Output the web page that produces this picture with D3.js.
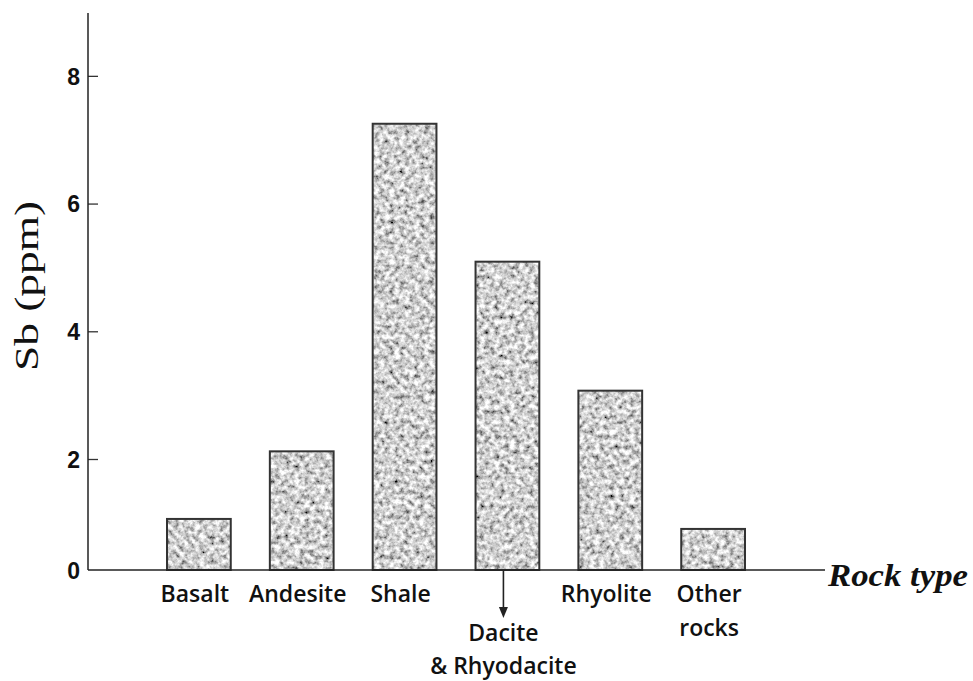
<!DOCTYPE html>
<html>
<head>
<meta charset="utf-8">
<script src="https://cdn.jsdelivr.net/npm/d3@7/dist/d3.min.js"></script>
<style>
  html, body { margin: 0; padding: 0; background: #fff; }
  svg { display: block; }
</style>
</head>
<body>
<svg id="chart" width="973" height="681"></svg>
<script>
// ---- data ----
const categories = ["Basalt", "Andesite", "Shale", "Dacite & Rhyodacite", "Rhyolite", "Other rocks"];
const labelLines = [["Basalt"], ["Andesite"], ["Shale"], ["Dacite", "& Rhyodacite"], ["Rhyolite"], ["Other", "rocks"]];
const sbValues = [0.92, 2.12, 7.25, 5.09, 3.07, 0.74];
const yTicks = [0, 2, 4, 6, 8];
const yLabel = "Sb (ppm)";
const xLabel = "Rock type";

// ---- layout ----
const svg = d3.select("#chart");
const axisX = 88, baseY = 570, topY = 12, axisRight = 825;

const x = d3.scaleBand().domain(categories).range([167, 745]).paddingInner(0.38).paddingOuter(0);
// the printed axis is not uniform below 2: 0 sits on the baseline
const y = d3.scaleLinear().domain([0, 2, 9]).range([baseY, 459, topY]);

// noise texture filter
const defs = svg.append("defs");
const f = defs.append("filter").attr("id", "noise")
  .attr("x", 0).attr("y", 0).attr("width", 1).attr("height", 1)
  .attr("filterUnits", "objectBoundingBox");
f.append("feTurbulence").attr("type", "fractalNoise").attr("baseFrequency", 0.2)
  .attr("numOctaves", 3).attr("seed", 7).attr("result", "n");
f.append("feColorMatrix").attr("in", "n").attr("type", "matrix")
  .attr("values", "1.7 0 0 0 -0.22  1.7 0 0 0 -0.22  1.7 0 0 0 -0.22  0 0 0 0 1")
  .attr("result", "g");
f.append("feGaussianBlur").attr("in", "g").attr("stdDeviation", 0.6).attr("result", "b");
f.append("feComposite").attr("in", "b").attr("in2", "SourceGraphic").attr("operator", "in");

// bars
const bars = svg.append("g");
bars.selectAll("rect.fill").data(sbValues).join("rect")
  .attr("class", "fill")
  .attr("x", (d, i) => x(categories[i]))
  .attr("y", d => y(d))
  .attr("width", x.bandwidth())
  .attr("height", d => baseY - y(d))
  .attr("fill", "#aaa")
  .attr("filter", "url(#noise)");
bars.selectAll("rect.edge").data(sbValues).join("rect")
  .attr("class", "edge")
  .attr("x", (d, i) => x(categories[i]))
  .attr("y", d => y(d))
  .attr("width", x.bandwidth())
  .attr("height", d => baseY - y(d))
  .attr("fill", "none")
  .attr("stroke", "#333")
  .attr("stroke-width", 2);

// y axis
const yAxis = d3.axisLeft(y).tickValues(yTicks).tickSizeInner(-10).tickSizeOuter(0).tickPadding(8)
  .tickFormat(d3.format("d"));
const gy = svg.append("g").attr("transform", `translate(${axisX},0)`).call(yAxis);
gy.select(".domain").remove();
gy.selectAll(".tick line").attr("stroke", "#333").attr("stroke-width", 1.3)
  .filter(d => d === 0).remove();
gy.selectAll(".tick text")
  .attr("font-family", "Liberation Sans, Arial, sans-serif")
  .attr("font-size", 23).attr("font-weight", "bold").attr("fill", "#111")
  .attr("dy", "0.36em");

// axis lines
svg.append("line").attr("x1", axisX).attr("x2", axisX).attr("y1", topY + 1).attr("y2", baseY)
  .attr("stroke", "#222").attr("stroke-width", 1.5);
svg.append("line").attr("x1", axisX).attr("x2", axisRight).attr("y1", baseY).attr("y2", baseY)
  .attr("stroke", "#222").attr("stroke-width", 1.5);

// category labels
const lab = svg.append("g")
  .attr("font-family", "Open Sans, sans-serif").attr("font-weight", 600)
  .attr("font-size", 23).attr("fill", "#111").attr("text-anchor", "middle");
labelLines.forEach((lines, i) => {
  const cx = x(categories[i]) + x.bandwidth() / 2;
  const isDacite = lines.length === 2 && lines[0] === "Dacite";
  const y0 = isDacite ? 641 : 602;
  const lh = isDacite ? 33 : 34;
  lines.forEach((t, j) => {
    lab.append("text").attr("x", cx - 4).attr("y", y0 + j * lh).text(t);
  });
  if (isDacite) {
    const ax = cx - 4;
    svg.append("line").attr("x1", ax).attr("x2", ax).attr("y1", baseY).attr("y2", 608)
      .attr("stroke", "#222").attr("stroke-width", 1.6);
    svg.append("path").attr("d", `M${ax - 4.5},607 L${ax + 4.5},607 L${ax},618 Z`).attr("fill", "#222");
  }
});

// axis titles
svg.append("text").attr("x", 828).attr("y", 586)
  .attr("font-family", "Liberation Serif, Times New Roman, serif")
  .attr("font-style", "italic").attr("font-weight", "bold")
  .attr("font-size", 31).attr("fill", "#111")
  .attr("textLength", 140).attr("lengthAdjust", "spacingAndGlyphs")
  .text(xLabel);

svg.append("text").attr("transform", `translate(38,286) rotate(-90)`)
  .attr("text-anchor", "middle")
  .attr("font-family", "Liberation Serif, Times New Roman, serif")
  .attr("font-size", 33).attr("fill", "#111")
  .attr("textLength", 170).attr("lengthAdjust", "spacingAndGlyphs")
  .text(yLabel);
</script>
</body>
</html>
